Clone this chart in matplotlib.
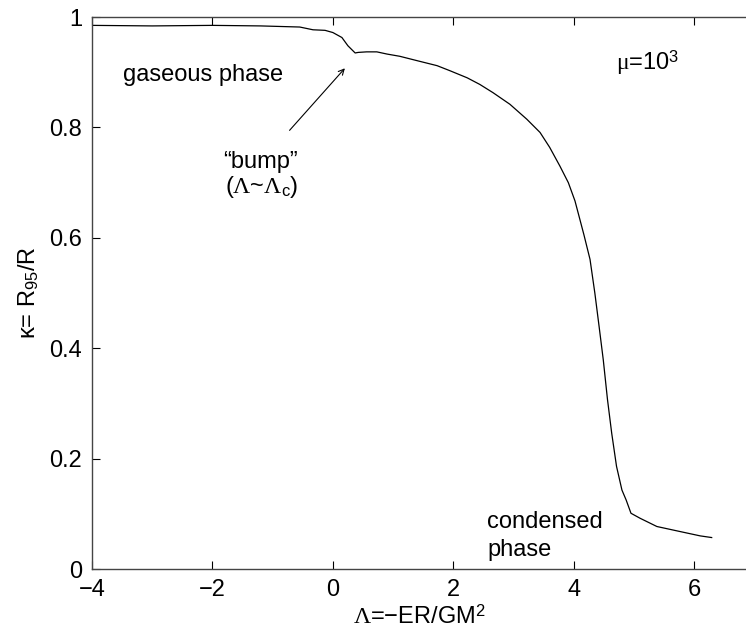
import matplotlib
matplotlib.use("Agg")
import matplotlib.pyplot as plt

# kappa = R95/R versus Lambda = -ER/GM^2, mu = 10^3
lam = [-4.00, -3.00, -2.00, -1.20, -0.55, -0.33, -0.13, 0.00, 0.15, 0.25,
       0.37, 0.42, 0.56, 0.73, 0.90, 1.11, 1.40, 1.73, 1.94, 2.23,
       2.44, 2.66, 2.94, 3.22, 3.44, 3.60, 3.77, 3.91, 4.02, 4.10,
       4.17, 4.27, 4.35, 4.42, 4.49, 4.56, 4.63, 4.71, 4.80, 4.87,
       4.95, 5.10, 5.38, 5.76, 6.10, 6.29]
kappa = [0.985, 0.984, 0.985, 0.984, 0.982, 0.977, 0.976, 0.972, 0.963, 0.948,
         0.935, 0.936, 0.937, 0.937, 0.933, 0.929, 0.921, 0.912, 0.903, 0.890,
         0.878, 0.863, 0.842, 0.815, 0.791, 0.764, 0.730, 0.700, 0.667, 0.634,
         0.605, 0.561, 0.500, 0.440, 0.379, 0.307, 0.246, 0.186, 0.143, 0.125,
         0.101, 0.092, 0.077, 0.068, 0.060, 0.057]

xticks = [-4, -2, 0, 2, 4, 6]
xticklabels = ["\u22124", "\u22122", "0", "2", "4", "6"]
yticks = [0, 0.2, 0.4, 0.6, 0.8, 1]
yticklabels = ["0", "0.2", "0.4", "0.6", "0.8", "1"]

plt.rcParams["font.family"] = ["Liberation Sans", "DejaVu Sans"]
plt.rcParams["mathtext.fontset"] = "custom"
plt.rcParams["mathtext.rm"] = "Liberation Serif"
plt.rcParams["mathtext.sf"] = "Liberation Sans"
plt.rcParams["mathtext.it"] = "Liberation Serif:italic"

FS = 17

fig = plt.figure(figsize=(7.46, 6.33), dpi=100)
ax = fig.add_axes([0.1233, 0.1011, 0.8767, 0.8719])

ax.plot(lam, kappa, color="black", linewidth=0.9)

ax.set_xlim(-4, 6.86)
ax.set_ylim(0, 1)
ax.set_xticks(xticks)
ax.set_xticklabels(xticklabels)
ax.set_yticks(yticks)
ax.set_yticklabels(yticklabels)
ax.tick_params(direction="in", length=6, width=0.8, labelsize=FS,
               top=True, right=False, pad=7)
ax.spines["right"].set_visible(False)
for s in ["left", "top", "bottom"]:
    ax.spines[s].set_color("#444444")
    ax.spines[s].set_linewidth(1.0)

ax.set_xlabel("$\\Lambda$=\u2212ER/GM$^{\\mathsf{2}}$", fontsize=FS, labelpad=3)
ax.set_ylabel("\u03ba= R$_{\\mathsf{95}}$/R", fontsize=FS, labelpad=6)

ax.text(-3.49, 0.895, "gaseous phase", fontsize=FS, va="center", ha="left")
ax.text(4.70, 0.918, "$\\mathrm{\\mu}$=10$^{\\mathsf{3}}$", fontsize=FS,
        va="center", ha="left")
ax.text(-1.21, 0.737, "\u201cbump\u201d", fontsize=FS, ha="center", va="center")
ax.text(-1.18, 0.693, "($\\Lambda$~$\\Lambda_{\\mathsf{c}}$)", fontsize=FS,
        ha="center", va="center")
ax.text(2.56, 0.085, "condensed", fontsize=FS, ha="left", va="center")
ax.text(2.56, 0.034, "phase", fontsize=FS, ha="left", va="center")

ax.annotate("", xy=(0.23, 0.911), xytext=(-0.75, 0.791),
            arrowprops=dict(arrowstyle="->", color="black", lw=0.8))

fig.savefig("out.png", dpi=100)
